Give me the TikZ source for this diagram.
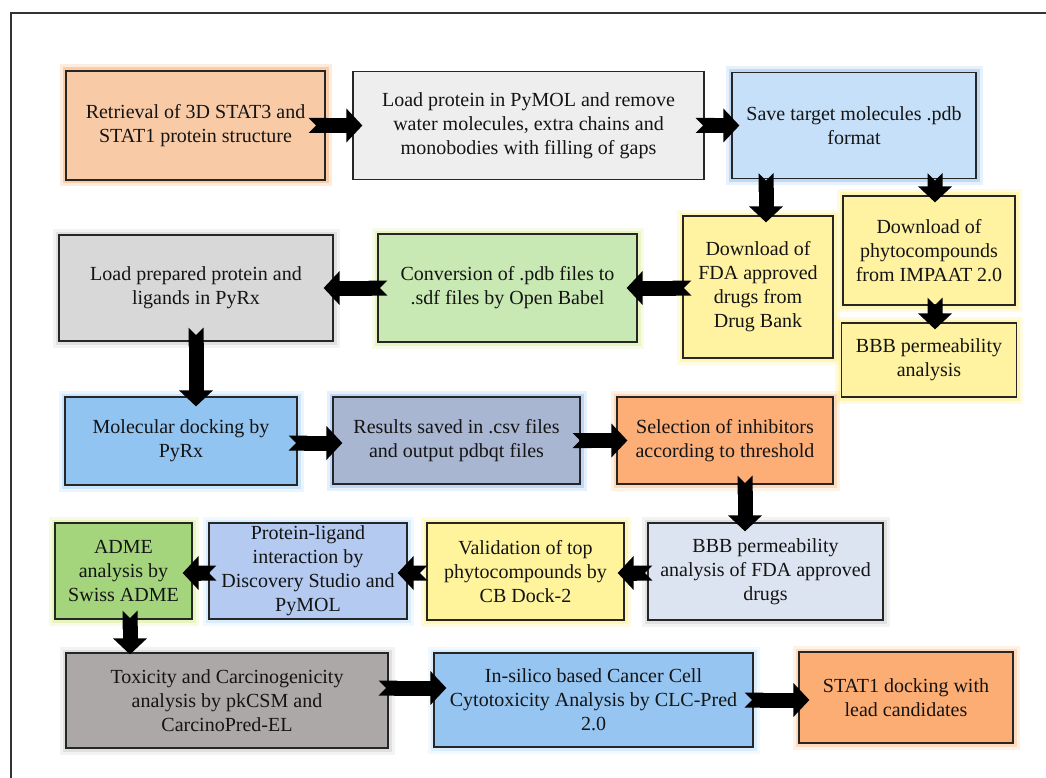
\documentclass[tikz,border=0pt]{standalone}
\usepackage{fontspec}
\setmainfont{Liberation Serif}
\usetikzlibrary{arrows.meta,calc}

\definecolor{retfill}{HTML}{F8CBA6}
\definecolor{retglow}{HTML}{F7A866}
\definecolor{loadfill}{HTML}{EEEEEE}
\definecolor{savefill}{HTML}{C6E0F9}
\definecolor{saveglow}{HTML}{8FBFF0}
\definecolor{yelfill}{HTML}{FFF2A0}
\definecolor{yelglow}{HTML}{FFEF80}
\definecolor{convfill}{HTML}{C9E9B4}
\definecolor{convglow}{HTML}{D6EE96}
\definecolor{ligsfill}{HTML}{D9D8D9}
\definecolor{greyglow}{HTML}{C8C8C8}
\definecolor{dockfill}{HTML}{92C4F2}
\definecolor{dockglow}{HTML}{A6D2F6}
\definecolor{resfill}{HTML}{A9B6D2}
\definecolor{resglow}{HTML}{8FB7F0}
\definecolor{selfill}{HTML}{FCAE76}
\definecolor{selglow}{HTML}{FBBE8E}
\definecolor{bbbffill}{HTML}{DDE4F1}
\definecolor{validfill}{HTML}{FFF49C}
\definecolor{pligfill}{HTML}{B4CAF0}
\definecolor{pligglow}{HTML}{BFE0FA}
\definecolor{admefill}{HTML}{A4D57C}
\definecolor{admeglow}{HTML}{D7EE8E}
\definecolor{toxfill}{HTML}{ADA8A8}
\definecolor{insilfill}{HTML}{96C5F1}
\definecolor{statfill}{HTML}{FCAD74}

\tikzset{
  stepbox/.style={draw=black!85, line width=1.2pt, fill=#1, text=black!92, align=center,
    inner sep=2pt, font=\fontsize{20}{24}\selectfont},
  boxsize/.style 2 args={minimum width=#1pt, minimum height=#2pt},
  glow/.style={preaction={draw=#1, line width=13pt, opacity=.22},
    preaction={draw=#1, line width=7pt, opacity=.45}},
  flow/.style={line width=15pt, black, {Triangle Cap[reversed]}-{Triangle[length=16pt,width=33pt]}}
}

\begin{document}
\begin{tikzpicture}[x=1pt, y=-1pt]
\useasboundingbox (0,0) rectangle (1046,778);
\begin{scope}
\clip (0,0) rectangle (1046,778);
\draw[line width=1.6pt, black!80] (11,13) rectangle (1070,800);
\end{scope}

\node[stepbox=retfill, glow=retglow, boxsize={259}{109}] (ret) at (195.5,125.5) {Retrieval of 3D STAT3 and\\STAT1 protein structure};
\node[stepbox=loadfill, boxsize={351}{108}] (loadp) at (528.5,125.5) {Load protein in PyMOL and remove\\water molecules, extra chains and\\monobodies with filling of gaps};
\node[stepbox=savefill, glow=saveglow, boxsize={244}{106}] (save) at (854,125.5) {Save target molecules .pdb\\format};
\node[stepbox=yelfill, glow=yelglow, boxsize={150}{142}] (fda) at (758,287) {Download of\\FDA approved\\drugs from\\Drug Bank};
\node[stepbox=yelfill, glow=yelglow, boxsize={172}{109}] (phyto) at (929,250.5) {Download of\\phytocompounds\\from IMPAAT 2.0};
\node[stepbox=yelfill, glow=yelglow, boxsize={175}{74}] (bbbp) at (929,360) {BBB permeability\\analysis};
\node[stepbox=convfill, glow=convglow, boxsize={259}{108}] (conv) at (507.5,288) {Conversion of .pdb files to\\.sdf files by Open Babel};
\node[stepbox=ligsfill, glow=greyglow, boxsize={274}{106}] (ligs) at (196,288) {Load prepared protein and\\ligands in PyRx};
\node[stepbox=dockfill, glow=dockglow, boxsize={232}{88}] (dock) at (181,441) {Molecular docking by\\PyRx};
\node[stepbox=resfill, glow=resglow, boxsize={247}{87}] (res) at (456.5,440.5) {Results saved in .csv files\\and output pdbqt files};
\node[stepbox=selfill, glow=selglow, boxsize={216}{87}] (sel) at (725,440.5) {Selection of inhibitors\\according to threshold};
\node[stepbox=bbbffill, glow=greyglow, boxsize={235}{97}] (bbbf) at (765.5,571.5) {BBB permeability\\analysis of FDA approved\\drugs};
\node[stepbox=validfill, glow=yelglow, boxsize={197}{97}] (valid) at (525.5,571.5) {Validation of top\\phytocompounds by\\CB Dock-2};
\node[stepbox=pligfill, glow=pligglow, boxsize={198}{96}] (plig) at (308,571) {Protein-ligand\\interaction by\\Discovery Studio and\\PyMOL};
\node[stepbox=admefill, glow=admeglow, boxsize={137}{96}] (adme) at (123.5,571) {ADME\\analysis by\\Swiss ADME};
\node[stepbox=toxfill, glow=greyglow, boxsize={322}{95}] (tox) at (227,700.5) {Toxicity and Carcinogenicity\\analysis by pkCSM and\\CarcinoPred-EL};
\node[stepbox=insilfill, glow=pligglow, boxsize={319}{94}] (insil) at (593.5,700) {In-silico based Cancer Cell\\Cytotoxicity Analysis by CLC-Pred\\2.0};
\node[stepbox=statfill, glow=selglow, boxsize={214}{91}] (stat) at (906,697.5) {STAT1 docking with\\lead candidates};

\draw[flow] ($(ret.east)+(-17,0)$) -- ($(loadp.west)+(10,0)$);
\draw[flow] ($(loadp.east)+(-9,0)$) -- ($(save.west)+(8,0)$);
\draw[flow] ($(save.south -| fda.north)+(8,-6)$) -- ($(fda.north)+(8,7)$);
\draw[flow] ($(save.south -| phyto.north)+(6,-6)$) -- ($(phyto.north)+(6,7)$);
\draw[flow] ($(phyto.south)+(6,-8)$) -- ($(bbbp.north)+(6,7)$);
\draw[flow] ($(fda.west)+(9,1)$) -- ($(conv.east)+(-11,0)$);
\draw[flow] ($(conv.west)+(10,0)$) -- ($(ligs.east)+(-10,0)$);
\draw[flow] ($(ligs.south)+(0,-14)$) -- ($(ligs.south |- dock.north)+(0,10)$);
\draw[flow] ($(dock.east)+(-9,2)$) -- ($(res.west)+(10,2.5)$);
\draw[flow] ($(res.east)+(-8,0)$) -- ($(sel.west)+(11,0)$);
\draw[flow] ($(sel.south)+(20,-9)$) -- ($(sel.south |- bbbf.north)+(20,9)$);
\draw[flow] ($(bbbf.west)+(5,1.5)$) -- ($(valid.east)+(-7,1.5)$);
\draw[flow] ($(valid.west)+(1,1.5)$) -- ($(plig.east)+(-10,2)$);
\draw[flow] ($(plig.west)+(8,2)$) -- ($(adme.east)+(-10,2)$);
\draw[flow] ($(adme.south)+(6.5,-9)$) -- ($(adme.south |- tox.north)+(6.5,2)$);
\draw[flow] ($(tox.east)+(-10,-12.5)$) -- ($(insil.west)+(13,-12)$);
\draw[flow] ($(insil.east)+(-9,0)$) -- ($(stat.west)+(11,2.5)$);
\end{tikzpicture}
\end{document}
